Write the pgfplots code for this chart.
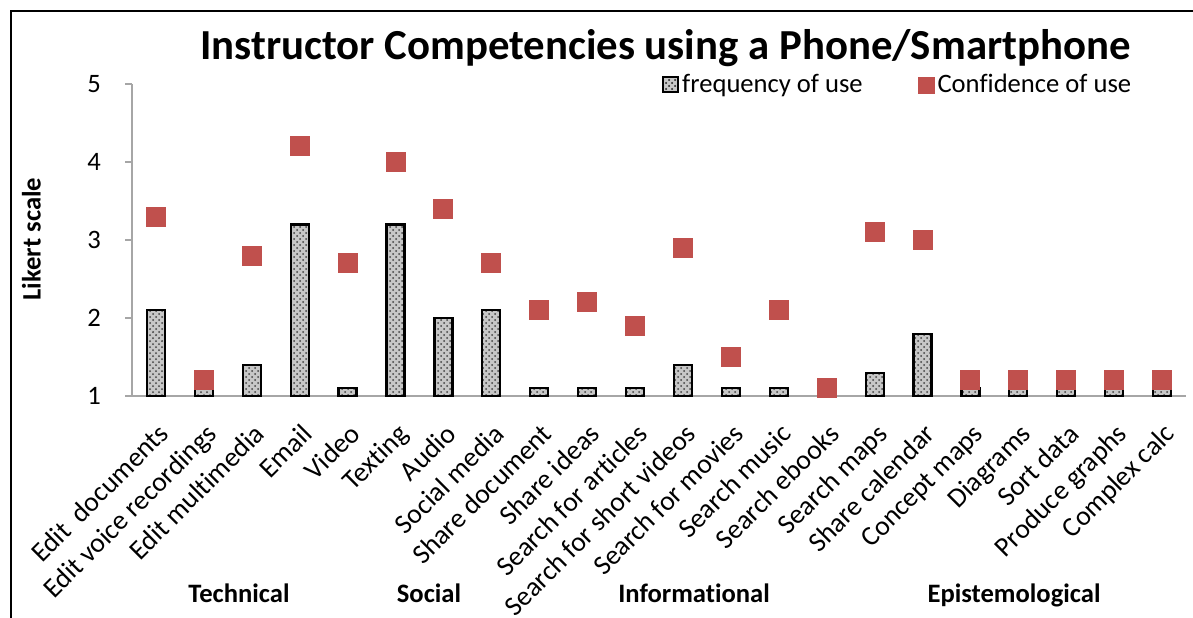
\documentclass[border=0pt]{standalone}
\usepackage{fontspec}
\setmainfont{Carlito}[Ligatures=NoCommon]
\usepackage{pgfplots}
\pgfplotsset{compat=1.18}
\usetikzlibrary{patterns}
\definecolor{redc}{HTML}{C0504D}
\begin{document}
\fontsize{13.3}{16}\selectfont
\begin{tikzpicture}[x=1pt,y=1pt]
\useasboundingbox (0,0) rectangle (596.5,308.5);
\draw[line width=1pt] (5.5,-10) -- (5.5,303) -- (610,303);
\begin{axis}[
  at={(66pt,110.5pt)}, anchor=south west,
  scale only axis, width=527pt, height=156pt,
  xmin=-0.5, xmax=21.5, ymin=1, ymax=5,
  axis x line*=bottom, axis y line*=left,
  axis line style={draw=gray!70, line width=1pt},
  xtick={0,...,21},
  xticklabels={Edit\ \ documents, Edit voice recordings, Edit multimedia, Email, Video, Texting, Audio, Social media, Share document, Share ideas, Search for articles, Search for short videos, Search for movies, Search music, Search ebooks, Search maps, Share calendar, Concept maps, Diagrams, Sort data, Produce graphs, Complex calc},
  x tick style={draw=none},
  ytick={1,2,3,4,5},
  y tick style={draw=gray!70, line width=1pt},
  tick align=outside, major tick length=3.5pt,
  /pgf/number format/assume math mode=true,
  ticklabel style={font=\fontsize{13.3}{16}\selectfont},
  yticklabel style={xshift=-7.5pt},
  xticklabel style={font=\fontsize{13.8}{16}\selectfont, xshift=0pt, yshift=-9pt, rotate=45, anchor=north east, inner sep=0pt, text height=10pt, text depth=3pt},
  legend columns=2,
  legend style={draw=none, fill=none, at={(0.497,0.997)}, anchor=west, font=\fontsize{13.3}{16}\selectfont, nodes={inner sep=1.5pt}, /tikz/every even column/.append style={column sep=26pt}, cells={anchor=west}},
]
\addplot[ybar, bar shift=0pt, bar width=9pt, draw=black, line width=1.1pt, fill=black!22,
  postaction={pattern=crosshatch dots, pattern color=black!75},
  legend image code/.code={\draw[draw=black, line width=1pt, fill=black!22, postaction={pattern=crosshatch dots, pattern color=black!75}] (0pt,-3.75pt) rectangle (7.5pt,3.75pt);}]
coordinates {(0,2.1) (1,1.1) (2,1.4) (3,3.2) (4,1.1) (5,3.2) (6,2.0) (7,2.1) (8,1.1) (9,1.1) (10,1.1) (11,1.4) (12,1.1) (13,1.1) (14,1.1) (15,1.3) (16,1.8) (17,1.1) (18,1.1) (19,1.1) (20,1.1) (21,1.1)};
\addlegendentry{frequency of use}
\addplot[color=redc, only marks, mark=square*, mark size=4.75pt, mark options={draw=redc, line width=0pt, fill=redc},
  legend image code/.code={\fill[redc] (0pt,-4pt) rectangle (8pt,4pt);}]
coordinates {(0,3.3) (1,1.2) (2,2.8) (3,4.2) (4,2.7) (5,4.0) (6,3.4) (7,2.7) (8,2.1) (9,2.2) (10,1.9) (11,2.9) (12,1.5) (13,2.1) (14,1.1) (15,3.1) (16,3.0) (17,1.2) (18,1.2) (19,1.2) (20,1.2) (21,1.2)};
\addlegendentry{Confidence of use}
\end{axis}
\node[anchor=base, font=\fontsize{21.4}{25}\selectfont\bfseries] at (332.75,278.5) {Instructor Competencies using a Phone/Smartphone};
\node[rotate=90, font=\bfseries] at (15.75,189) {Likert scale};
\node[anchor=base, font=\bfseries] at (119.5,7.5) {Technical};
\node[anchor=base, font=\bfseries] at (214.5,7.5) {Social};
\node[anchor=base, font=\bfseries] at (347,7.5) {Informational};
\node[anchor=base, font=\bfseries] at (507,7.5) {Epistemological};
\end{tikzpicture}
\end{document}
